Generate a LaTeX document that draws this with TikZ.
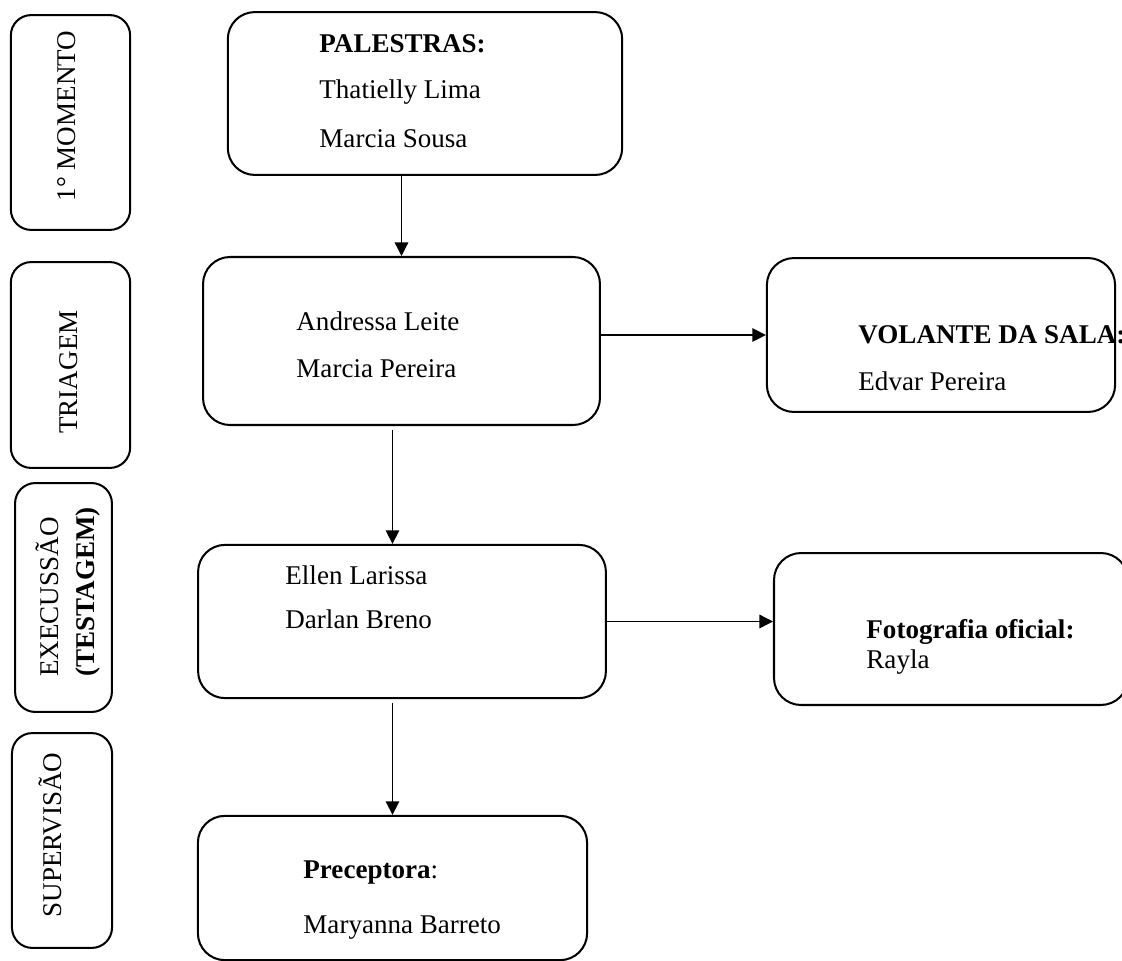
\documentclass[tikz,border=0pt]{standalone}
\usepackage{fontspec}
\setmainfont{Liberation Serif}
\usepackage{tikz}
\usetikzlibrary{positioning,calc,arrows.meta}

\begin{document}
\begin{tikzpicture}[x=0.0156cm, y=-0.0156cm,
        kasten/.style={draw, line width=0.9pt, rounded corners=12pt, inner sep=0pt},
        seite/.style={draw, line width=0.9pt, rounded corners=9pt, inner sep=0pt},
        schrift/.style={font=\fontsize{12}{14}\selectfont, inner sep=0pt},
        pfeil/.style={-{Triangle[length=6pt,width=6pt]}, line width=0.6pt}]
        % Rahmen
        \useasboundingbox (0,0) rectangle (1122,961);
        
        % Seitenleiste
        \node[seite, minimum width=1.86cm, minimum height=3.35cm] (mom) at (70.5,122.5) {};
        \node[seite, minimum width=1.86cm, minimum height=3.21cm] (tria) at (70.5,365) {};
        \node[seite, minimum width=1.51cm, minimum height=3.57cm] (exec) at (63.5,597.5) {};
        \node[seite, minimum width=1.56cm, minimum height=3.35cm] (sup) at (62,840.5) {};
        
        \node[schrift, rotate=90] (tmom) at (67,116) {1° MOMENTO};
        \node[schrift, rotate=90] (ttria) at (69,372) {TRIAGEM};
        \node[schrift, rotate=90, align=left, font=\fontsize{12}{16}\selectfont] (texec) at (68,592) {EXECUSSÃO\\\textbf{(TESTAGEM)}};
        \node[schrift, rotate=90] (tsup) at (50,835) {SUPERVISÃO};
        
        % Kaesten
        \node[kasten, minimum width=6.15cm, minimum height=2.54cm] (pal) at (425,93.5) {};
        \node[kasten, minimum width=6.19cm, minimum height=2.62cm] (tri) at (401.5,341) {};
        \node[kasten, minimum width=5.43cm, minimum height=2.40cm] (vol) at (941,335) {};
        \node[kasten, minimum width=6.36cm, minimum height=2.39cm] (exe) at (402,621.5) {};
        \node[kasten, minimum width=5.52cm, minimum height=2.37cm] (fot) at (951,629) {};
        \node[kasten, minimum width=6.07cm, minimum height=2.25cm] (pre) at (392.5,888) {};
        
        % Namen
        \node[schrift, anchor=base west] (palk) at (319,52) {\textbf{PALESTRAS:}};
        \node[schrift, anchor=base west] (pal1) at (319,98) {Thatielly Lima};
        \node[schrift, anchor=base west] (pal2) at (319,147) {Marcia Sousa};
        
        \node[schrift, anchor=base west] (tri1) at (296,330) {Andressa Leite};
        \node[schrift, anchor=base west] (tri2) at (296,377) {Marcia Pereira};
        
        \node[schrift, anchor=base west] (volk) at (858,343) {\textbf{VOLANTE DA SALA:}};
        \node[schrift, anchor=base west] (vol1) at (858,390) {Edvar Pereira};
        
        \node[schrift, anchor=base west] (exe1) at (285,584) {Ellen Larissa};
        \node[schrift, anchor=base west] (exe2) at (285,628) {Darlan Breno};
        
        \node[schrift, anchor=base west] (fotk) at (866,638) {\textbf{Fotografia oficial:}};
        \node[schrift, anchor=base west] (fot1) at (866,668) {Rayla};
        
        \node[schrift, anchor=base west] (prek) at (303,878) {\textbf{Preceptora}:};
        \node[schrift, anchor=base west] (pre1) at (303,933) {Maryanna Barreto};
        
        % Pfeile
        \draw[pfeil] (pal.south -| tri.north) -- (tri.north);
        \draw[pfeil, shorten <=1.8pt] (tri.south -| pre.north) -- (exe.north -| pre.north);
        \draw[pfeil, shorten <=1.8pt] (exe.south -| pre.north) -- (pre.north);
        \draw[pfeil] (vol.west -| tri.east) -- (vol.west);
        \draw[pfeil] (exe.east) -- (exe.east -| fot.west);
        
    \end{tikzpicture}
\end{document}
